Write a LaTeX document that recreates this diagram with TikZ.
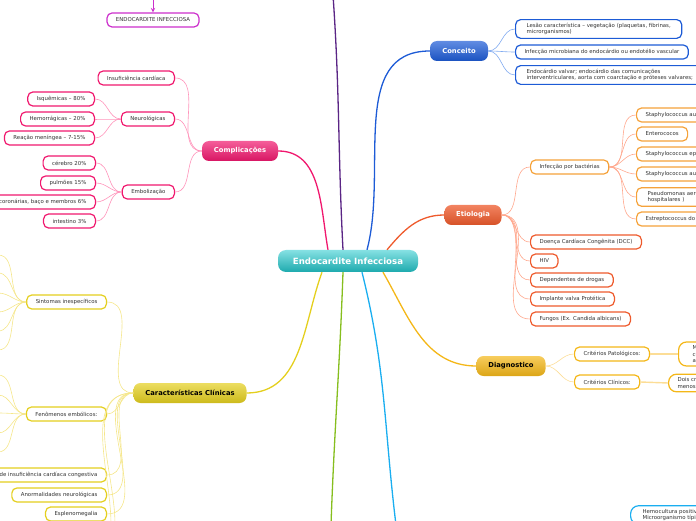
\documentclass[tikz,border=0pt]{standalone}
\usepackage{fontspec}
\setmainfont{DejaVu Sans}
\usepackage{tikz}
\usetikzlibrary{arrows}

\definecolor{raiz}{HTML}{22C8CC}
\definecolor{rosa}{HTML}{F0186E}
\definecolor{rosaclaro}{HTML}{FF93BA}
\definecolor{roxo}{HTML}{5A2585}
\definecolor{lilas}{HTML}{CC2FCC}
\definecolor{azul}{HTML}{1D5BD6}
\definecolor{azulclaro}{HTML}{80AAF0}
\definecolor{laranja}{HTML}{EE5A2C}
\definecolor{laranjaclaro}{HTML}{FFA88E}
\definecolor{ambar}{HTML}{F5A23A}
\definecolor{ouro}{HTML}{F4B718}
\definecolor{ouroclaro}{HTML}{FCDD96}
\definecolor{amarelo}{HTML}{E4CF1E}
\definecolor{amareloclaro}{HTML}{F5E68A}
\definecolor{verde}{HTML}{86BE1E}
\definecolor{celeste}{HTML}{1AAEF0}

\begin{document}
\begin{tikzpicture}[x=1pt, y=1pt, >=stealth,
  every node/.style={font=\fontsize{5.4}{6.6}\selectfont, text=black!80},
  topo/.style={rounded corners=8pt, minimum width=140pt, minimum height=22pt,
    text=white, font=\fontsize{8.6}{10}\selectfont\bfseries},
  ramo/.style={rounded corners=7pt, minimum height=20pt, text=white,
    font=\fontsize{6.8}{8}\selectfont\bfseries},
  folha/.style={draw, line width=1.2pt, rounded corners=5pt, fill=white,
    minimum height=14pt, inner xsep=9pt, align=left},
  linha/.style={line width=1.3pt},
  fio/.style={line width=0.6pt}]
  \useasboundingbox (0,0) rectangle (696,520);
  \clip (0,0) rectangle (696,520);

  % Central topic
  \node[topo, top color=raiz!55!white, bottom color=raiz!85!black] (EI) at (348,259) {Endocardite Infecciosa};

  % Main branches
  \node[ramo, minimum width=76pt, top color=rosa!70!white, bottom color=rosa!90!black] (CP) at (240,369) {Complicações};
  \node[ramo, minimum width=58pt, top color=azul!70!white, bottom color=azul!90!black] (CO) at (459,469) {Conceito};
  \node[ramo, minimum width=57pt, top color=laranja!75!white, bottom color=laranja!90!black] (ET) at (473,305) {Etiologia};
  \node[ramo, minimum width=69pt, text=black, top color=ouro!70!white, bottom color=ouro!90!black] (DG) at (511,154) {Diagnostico};
  \node[ramo, minimum width=113pt, text=black, top color=amarelo!70!white, bottom color=amarelo!90!black] (CC) at (190,127) {Características Clínicas};

  % Branches leaving the picture
  \coordinate (TP) at (333,525);
  \coordinate (TV) at (331,-5);
  \coordinate (TC) at (396,-5);

  \draw[linha, rosa] (CP.east) to[out=0,in=100] ([xshift=-20pt]EI.north);
  \draw[linha, roxo] ([xshift=-5pt]EI.north) to[out=93,in=-86] (TP);
  \draw[linha, azul] (CO.west) to[out=180,in=75] ([xshift=19pt]EI.north);
  \draw[linha, laranja] (ET.west) to[out=180,in=50] ([xshift=39pt]EI.north);
  \draw[linha, amarelo] (CC.east) to[out=0,in=250] ([xshift=-26pt]EI.south);
  \draw[linha, ouro] (DG.west) to[out=180,in=-60] ([xshift=35pt]EI.south);
  \draw[linha, verde] ([xshift=-5pt]EI.south) to[out=-92,in=88] (TV);
  \draw[linha, celeste] ([xshift=14pt]EI.south) to[out=-76,in=97] (TC);

  % Loose title with arrow
  \coordinate (TM) at (153,524);
  \node[folha, draw=lilas] (EN) at (153,500) {ENDOCARDITE INFECCIOSA};
  \draw[->, lilas, line width=1pt] (TM) -- (EN);

  % Complicacoes
  \node[folha, draw=rosa, anchor=east] (C1) at (175,442) {Insuficiência cardíaca};
  \node[folha, draw=rosa, anchor=east] (C2) at (175,401) {Neurológicas};
  \node[folha, draw=rosa, anchor=east] (C3) at (175,328) {Embolização};
  \node[folha, draw=rosa, anchor=east] (N1) at (95,421) {Isquêmicas – 80\%};
  \node[folha, draw=rosa, anchor=east] (N2) at (95,401) {Hemorrágicas – 20\%};
  \node[folha, draw=rosa, anchor=east] (N3) at (95,382) {Reação meníngea – 7-15\%};
  \node[folha, draw=rosa, anchor=east] (E1) at (96,357) {cérebro 20\%};
  \node[folha, draw=rosa, anchor=east] (E2) at (96,337) {pulmões 15\%};
  \node[folha, draw=rosa, anchor=east] (E3) at (96,318) {coronárias, baço e membros 6\%};
  \node[folha, draw=rosa, anchor=east] (E4) at (96,299) {intestino 3\%};

  \foreach \n in {C1,C2,C3}
    \draw[fio, rosaclaro] (CP.west) to[out=180,in=0] (\n.east);
  \foreach \n in {N1,N2,N3}
    \draw[fio, rosaclaro] (C2.west) to[out=180,in=0] (\n.east);
  \foreach \n in {E1,E2,E3,E4}
    \draw[fio, rosaclaro] (C3.west) to[out=180,in=0] (\n.east);

  % Conceito
  \node[folha, draw=azul, anchor=west, inner xsep=11pt] (K1) at (515,491) {Lesão característica – vegetação (plaquetas, fibrinas,\\ microrganismos)};
  \node[folha, draw=azul, anchor=west] (K2) at (515,468) {Infecção microbiana do endocárdio ou endotélio vascular};
  \node[folha, draw=azul, anchor=west, inner xsep=11pt] (K3) at (515,445) {Endocárdio valvar;  endocárdio das comunicações\\ interventriculares, aorta com coarctação e próteses valvares;};

  \foreach \n in {K1,K2,K3}
    \draw[fio, azulclaro] (CO.east) to[out=0,in=180] (\n.west);

  % Etiologia
  \node[folha, draw=ambar, anchor=west] (B0) at (530,353) {Infecção por bactérias};
  \node[folha, draw=ambar, anchor=west] (B1) at (636,405) {Staphylococcus aureus};
  \node[folha, draw=ambar, anchor=west] (B2) at (636,386) {Enterococos};
  \node[folha, draw=ambar, anchor=west] (B3) at (636,366) {Staphylococcus epidermidis};
  \node[folha, draw=ambar, anchor=west] (B4) at (636,346) {Staphylococcus aureus};
  \node[folha, draw=ambar, anchor=west, inner xsep=11pt] (B5) at (636,323) {Pseudomonas aeruginosa (infecções\\ hospitalares )};
  \node[folha, draw=ambar, anchor=west] (B6) at (636,301) {Estreptococcus do grupo viridans};
  \node[folha, draw=laranja, anchor=west] (T1) at (530,278) {Doença Cardíaca Congênita (DCC)};
  \node[folha, draw=laranja, anchor=west] (T2) at (530,259) {HIV};
  \node[folha, draw=laranja, anchor=west] (T3) at (530,240) {Dependentes de drogas};
  \node[folha, draw=laranja, anchor=west] (T4) at (530,221) {Implante valva Protética};
  \node[folha, draw=laranja, anchor=west] (T5) at (530,201) {Fungos (Ex. Candida albicans)};

  \foreach \n in {B0,T1,T2,T3,T4,T5}
    \draw[fio, laranjaclaro] (ET.east) to[out=0,in=180] (\n.west);
  \foreach \n in {B1,B2,B3,B4,B5,B6}
    \draw[fio, laranjaclaro] (B0.east) to[out=0,in=180] (\n.west);

  % Diagnostico
  \node[folha, draw=ouro, anchor=west] (D1) at (574,166) {Critérios Patológicos:};
  \node[folha, draw=ouro, anchor=west] (D2) at (574,138) {Critérios Clínicos:};
  \node[folha, draw=ouro, anchor=west, rounded corners=8pt, inner xsep=14pt] (P1) at (678,166) {Microrganismos\\ cultura ou histologia\\ abscesso intracardíaco};
  \node[folha, draw=ouro, anchor=west, rounded corners=8pt] (P2) at (668,137) {Dois critérios maiores ou\\ menos um maior};

  \foreach \n in {D1,D2}
    \draw[fio, ouroclaro] (DG.east) to[out=0,in=180] (\n.west);
  \draw[ouroclaro, line width=1.4pt] (D1.east) -- (P1.west);
  \draw[ouroclaro, line width=1.4pt] (D2.east) -- (P2.west);

  % Caracteristicas clinicas
  \node[folha, draw=amarelo, anchor=east] (S1) at (107,218) {Sintomas inespecíficos};
  \node[folha, draw=amarelo, anchor=east] (S2) at (107,106) {Fenômenos embólicos:};
  \node[folha, draw=amarelo, anchor=east] (S3) at (107,45) {Sinais de insuficiência cardíaca congestiva};
  \node[folha, draw=amarelo, anchor=east] (S4) at (107,25) {Anormalidades neurológicas};
  \node[folha, draw=amarelo, anchor=east] (S5) at (107,6) {Esplenomegalia};
  \coordinate (S6) at (111,-4);
  \coordinate (S7) at (115,-4);

  \foreach \n in {S1,S2,S3,S4,S5}
    \draw[fio, amareloclaro] (CC.west) to[out=180,in=0] (\n.east);
  \foreach \n in {S6,S7}
    \draw[fio, amareloclaro] (CC.west) to[out=180,in=90] (\n);
  \foreach \y in {265,247,227,208,189,170}
    \draw[fio, amareloclaro] (S1.west) to[out=180,in=0] (-2,\y);
  \foreach \y in {145,125,107,87,68}
    \draw[fio, amareloclaro] (S2.west) to[out=180,in=0] (-2,\y);

  % Bottom right, branch below the picture
  \node[folha, draw=celeste, anchor=west, rounded corners=8pt, inner xsep=12pt] (HC) at (630,5) {Hemocultura positiva com\\ Microorganismo típico};
\end{tikzpicture}
\end{document}
